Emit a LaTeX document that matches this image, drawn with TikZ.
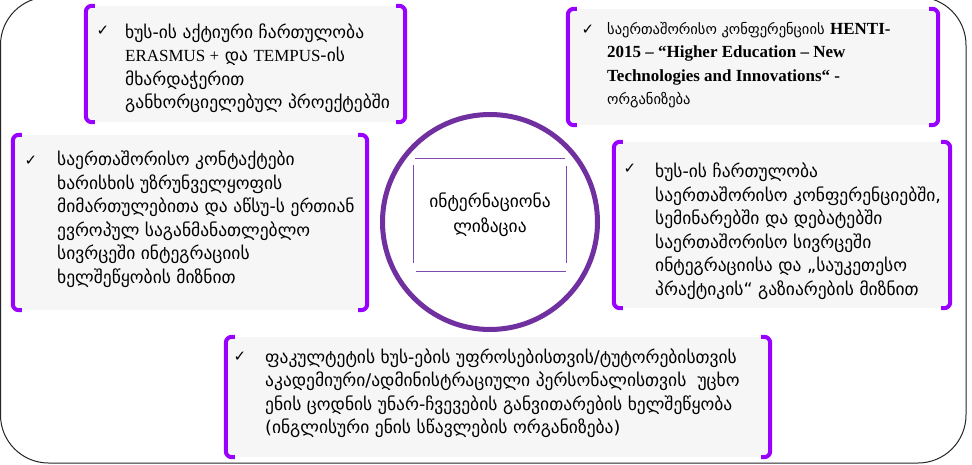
\documentclass[tikz,border=0pt]{standalone}
\usepackage{fontspec}
\setmainfont{DejaVu Sans}
\newfontfamily\lat{Liberation Serif}[Scale=0.97]
\definecolor{brkviolet}{RGB}{153,0,255}
\definecolor{ringpurple}{RGB}{112,48,160}
\definecolor{sqpurple}{RGB}{128,72,176}
\definecolor{boxgrey}{RGB}{246,246,246}
\newcommand{\itemfont}{\fontsize{17.5}{23.5}\selectfont}
\newcommand{\smallgeo}{\fontsize{14.5}{23.5}\selectfont}
\tikzset{
    itembox/.style={rectangle, fill=boxgrey, inner sep=0pt},
    brk/.style={brkviolet, line width=4pt, rounded corners=6pt},
    itemtext/.style={anchor=west, align=left, inner sep=0pt, font=\itemfont},
    tick/.style={inner sep=0pt, font=\fontsize{15}{15}\selectfont},
    sqline/.style={sqpurple, line width=1.3pt},
}
\begin{document}
\begin{tikzpicture}[x=1pt,y=-1pt]
        \useasboundingbox (0,0) rectangle (972,465);
        \draw[black!85, line width=1pt, rounded corners=48pt] (0.5,-3) rectangle (966,463);

        \node[itembox, minimum width=319pt, minimum height=116pt] (b1) at (245.5,64) {};
        \node[itembox, minimum width=370pt, minimum height=116pt] (b2) at (753,67) {};
        \node[itembox, minimum width=354pt, minimum height=175pt] (b3) at (190,222.5) {};
        \node[itembox, minimum width=336pt, minimum height=166pt] (b4) at (782,225) {};
        \node[itembox, minimum width=544pt, minimum height=120pt] (b5) at (498,397) {};

        \draw[brk] ([xshift=9pt]b1.north west) -- (b1.north west) -- (b1.south west) -- ([xshift=9pt]b1.south west);
        \draw[brk] ([xshift=-9pt]b1.north east) -- (b1.north east) -- (b1.south east) -- ([xshift=-9pt]b1.south east);
        \draw[brk] ([xshift=9pt]b2.north west) -- (b2.north west) -- (b2.south west) -- ([xshift=9pt]b2.south west);
        \draw[brk] ([xshift=-9pt]b2.north east) -- (b2.north east) -- (b2.south east) -- ([xshift=-9pt]b2.south east);
        \draw[brk] ([xshift=9pt]b3.north west) -- (b3.north west) -- (b3.south west) -- ([xshift=9pt]b3.south west);
        \draw[brk] ([xshift=-9pt]b3.north east) -- (b3.north east) -- (b3.south east) -- ([xshift=-9pt]b3.south east);
        \draw[brk] ([xshift=9pt]b4.north west) -- (b4.north west) -- (b4.south west) -- ([xshift=9pt]b4.south west);
        \draw[brk] ([xshift=-9pt]b4.north east) -- (b4.north east) -- (b4.south east) -- ([xshift=-9pt]b4.south east);
        \draw[brk] ([xshift=9pt]b5.north west) -- (b5.north west) -- (b5.south west) -- ([xshift=9pt]b5.south west);
        \draw[brk] ([xshift=-9pt]b5.north east) -- (b5.north east) -- (b5.south east) -- ([xshift=-9pt]b5.south east);

        \node[tick] (c1) at (103,31) {✓};
        \node[itemtext] (t1) at (125,68) {ხუს-ის აქტიური ჩართულობა\\
            {\lat ERASMUS +} და {\lat TEMPUS}-ის\\
            მხარდაჭერით\\
            განხორციელებულ პროექტებში};
        \node[tick] (c2) at (588,30) {✓};
        \node[itemtext] (t2) at (607,65) {{\smallgeo საერთაშორისო კონფერენციის} {\lat\bfseries HENTI-}\\
            {\lat\bfseries 2015 – “Higher Education – New}\\
            {\lat\bfseries Technologies and Innovations“ -}\\
            {\smallgeo ორგანიზება}};
        \node[tick] (c3) at (31,161) {✓};
        \node[itemtext] (t3) at (57,219) {საერთაშორისო კონტაქტები\\
            ხარისხის უზრუნველყოფის\\
            მიმართულებითა და აწსუ-ს ერთიან\\
            ევროპულ საგანმანათლებლო\\
            სივრცეში ინტეგრაციის\\
            ხელშეწყობის მიზნით};
        \node[tick] (c4) at (630,169) {✓};
        \node[itemtext] (t4) at (655,231) {ხუს-ის ჩართულობა\\
            საერთაშორისო კონფერენციებში,\\
            სემინარებში და დებატებში\\
            საერთაშორისო სივრცეში\\
            ინტეგრაციისა და „საუკეთესო\\
            პრაქტიკის“ გაზიარების მიზნით};
        \node[tick] (c5) at (240,357) {✓};
        \node[itemtext] (t5) at (265,393) {ფაკულტეტის ხუს-ების უფროსებისთვის/ტუტორებისთვის\\
            აკადემიური/ადმინისტრაციული პერსონალისთვის\ \ უცხო\\
            ენის ცოდნის უნარ-ჩვევების განვითარების ხელშეწყობა\\
            (ინგლისური ენის სწავლების ორგანიზება)};

        \node[circle, draw=ringpurple, line width=5pt, fill=white, minimum size=215pt, inner sep=0pt] (ring) at (490,222) {};
        \node[align=center, inner sep=0pt, minimum width=152pt, minimum height=112pt, font=\fontsize{17.5}{25}\selectfont] (title) at (490,215) {ინტერნაციონა\\ლიზაცია};
        \draw[sqline] ([xshift=1pt]title.north west) -- ([xshift=-1pt]title.north east);
        \draw[sqline] ([xshift=2pt]title.south west) -- (title.south east);
        \draw[sqline] ([yshift=-6pt]title.north west) -- ([yshift=8pt]title.south west);
        \draw[sqline] ([yshift=-7pt]title.north east) -- ([yshift=8pt]title.south east);
\end{tikzpicture}
\end{document}
